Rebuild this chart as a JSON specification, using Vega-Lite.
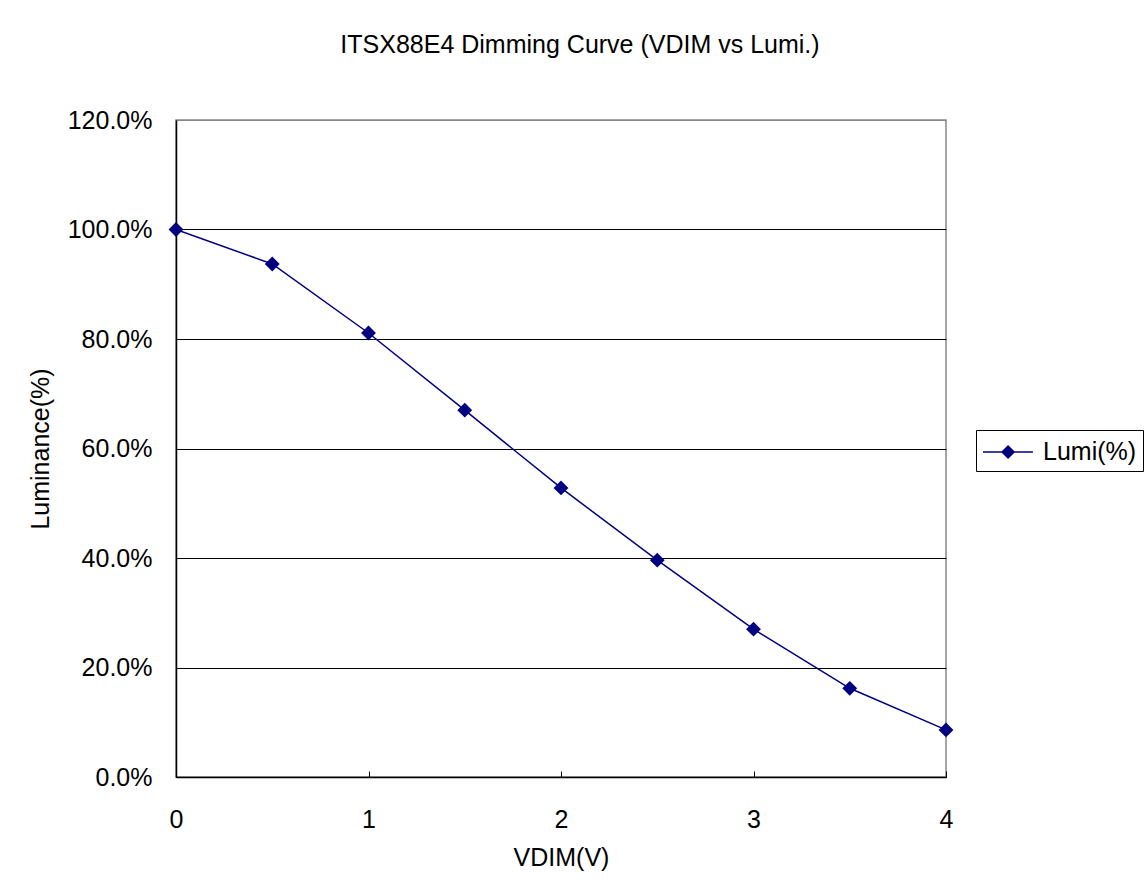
{
  "$schema": "https://vega.github.io/schema/vega-lite/v6.json",
  "autosize": {"type": "none"},
  "width": 770,
  "height": 657,
  "padding": {"left": 176, "top": 120, "right": 198, "bottom": 117},
  "background": "white",
  "title": {
    "text": "ITSX88E4 Dimming Curve (VDIM vs Lumi.)",
    "anchor": "middle",
    "dx": 19,
    "offset": 50,
    "font": "Liberation Sans",
    "fontSize": 25,
    "fontWeight": "normal",
    "color": "black"
  },
  "config": {
    "view": {"stroke": "#888888", "strokeWidth": 1.5},
    "font": "Liberation Sans"
  },
  "data": {
    "values": [
      {"v": 0, "lumi": 1.0, "series": "Lumi(%)"},
      {"v": 0.5, "lumi": 0.937, "series": "Lumi(%)"},
      {"v": 1, "lumi": 0.811, "series": "Lumi(%)"},
      {"v": 1.5, "lumi": 0.670, "series": "Lumi(%)"},
      {"v": 2, "lumi": 0.528, "series": "Lumi(%)"},
      {"v": 2.5, "lumi": 0.396, "series": "Lumi(%)"},
      {"v": 3, "lumi": 0.270, "series": "Lumi(%)"},
      {"v": 3.5, "lumi": 0.162, "series": "Lumi(%)"},
      {"v": 4, "lumi": 0.086, "series": "Lumi(%)"}
    ]
  },
  "encoding": {
    "x": {
      "field": "v",
      "type": "quantitative",
      "scale": {"domain": [0, 4], "nice": false, "zero": false},
      "axis": {
        "title": "VDIM(V)",
        "values": [0, 1, 2, 3, 4],
        "format": "d",
        "grid": false,
        "labelFlush": false,
        "domainColor": "black",
        "domainWidth": 1.5,
        "tickColor": "black",
        "tickSize": -6,
        "labelPadding": 36,
        "labelFontSize": 25,
        "labelColor": "black",
        "labelFont": "Liberation Sans",
        "titleFontSize": 25,
        "titleFontWeight": "normal",
        "titleColor": "black",
        "titleFont": "Liberation Sans",
        "titlePadding": 13
      }
    },
    "y": {
      "field": "lumi",
      "type": "quantitative",
      "scale": {"domain": [0, 1.2], "nice": false},
      "axis": {
        "title": "Luminance(%)",
        "values": [0, 0.2, 0.4, 0.6, 0.8, 1.0, 1.2],
        "format": ".1%",
        "grid": true,
        "gridColor": {"condition": {"test": "datum.value > 1.1", "value": "#888888"}, "value": "black"},
        "gridWidth": 1,
        "labelFlush": false,
        "domainColor": "black",
        "domainWidth": 1.5,
        "ticks": false,
        "labelPadding": 24,
        "labelFontSize": 25,
        "labelColor": "black",
        "labelFont": "Liberation Sans",
        "titleFontSize": 25,
        "titleFontWeight": "normal",
        "titleColor": "black",
        "titleFont": "Liberation Sans",
        "titlePadding": 14
      }
    },
    "color": {
      "field": "series",
      "type": "nominal",
      "scale": {"range": ["#000080"]},
      "legend": {
        "title": null,
        "orient": "none",
        "legendX": 800,
        "legendY": 310,
        "strokeColor": "black",
        "padding": 6,
        "symbolType": "M-1,0L0.27,0M1.07,0L2.33,0M0.67,-0.4L1.07,0L0.67,0.4L0.27,0Z",
        "symbolSize": 900,
        "symbolStrokeWidth": 1.5,
        "symbolFillColor": "#000080",
        "labelFontSize": 25,
        "labelFont": "Liberation Sans",
        "labelColor": "black",
        "labelOffset": 29
      }
    }
  },
  "layer": [
    {"mark": {"type": "line", "strokeWidth": 1.5}},
    {"mark": {"type": "point", "shape": "diamond", "filled": true, "size": 220, "opacity": 1}}
  ]
}
